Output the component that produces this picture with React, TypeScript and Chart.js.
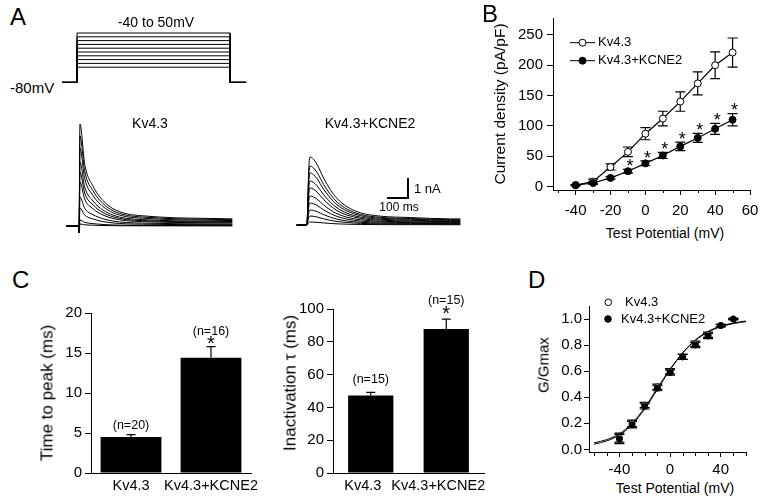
import React, { useEffect, useRef } from 'react';
import { Chart, registerables } from 'chart.js';

const FONT = "'Liberation Sans', Arial, Helvetica, sans-serif";

/* ================= DATA ================= */
// Panel A – voltage protocol
const stepVoltages = [-40, -30, -20, -10, 0, 10, 20, 30, 40, 50];
const holdingVoltage = -80;
const protocolTimes = [-71, 0, 729, 805]; // ms: hold start, step on, step off, hold end

// Panel A – current traces (nA vs ms), one trace per step voltage
const kvPeaks = [0.1, 0.3, 0.9, 1.45, 2.2, 2.7, 3.2, 3.9, 4.5, 5.1];
const kvTraceTimes = [-59, 0, 0.3, 4.5, 27, 67, 114, 162, 225, 303, 462, 600, 730];
const kvTraceShape = [0, 0, 0, 1, 0.61, 0.39, 0.25, 0.17, 0.12, 0.1, 0.08, 0.075, 0.07];
const kvCapacitive = [0, 0, -0.35, 0, 0, 0, 0, 0, 0, 0, 0, 0, 0];
const kcPeaks = [0.15, 0.45, 0.75, 1.1, 1.45, 1.85, 2.2, 2.6, 2.95, 3.4];
const kcTraceTimes = [-49, 0, 4, 8, 14, 30, 48, 79, 111, 143, 190, 254, 349, 492, 683, 730];
const kcTraceShape = [0, 0, 0.4, 0.8, 1, 0.97, 0.89, 0.69, 0.52, 0.39, 0.27, 0.18, 0.13, 0.11, 0.09, 0.09];
const scaleBarTime = 100; // ms
const scaleBarCurrent = 1; // nA

// Panel B – I/V
const ivVoltages = [-40, -30, -20, -10, 0, 10, 20, 30, 40, 50];
const ivKv43 = [2, 8, 32, 57, 87, 112, 140, 170, 200, 221];
const ivKv43Err = [1, 4, 5, 8, 10, 12, 16, 19, 22, 24];
const ivKcne2 = [2, 5.5, 14, 25, 38, 51, 66, 80, 95, 110];
const ivKcne2Err = [1, 2, 2, 3, 4, 5, 7, 7.5, 9, 10];
const ivSignificant = [-10, 0, 10, 20, 30, 40, 50];
const ivXTicks = [-40, -20, 0, 20, 40, 60];
const ivXMinor = [-50, -30, -10, 10, 30, 50];
const ivYTicks = [0, 50, 100, 150, 200, 250];

// Panel C – bars
const groups = ['Kv4.3', 'Kv4.3+KCNE2'];
const timeToPeak = [4.5, 14.4];
const timeToPeakErr = [0.3, 1.4];
const timeToPeakN = ['(n=20)', '(n=16)'];
const inactTau = [47.2, 87.8];
const inactTauErr = [2, 6];
const inactTauN = ['(n=15)', '(n=15)'];
const significant = [false, true];
const ttpTicks = [0, 5, 10, 15, 20];
const tauTicks = [0, 20, 40, 60, 80, 100];

// Panel D – G/V
const gvVoltages = [-40, -30, -20, -10, 0, 10, 20, 30, 40, 50];
const gvKv43 = [0.09, 0.2, 0.34, 0.48, 0.6, 0.71, 0.81, 0.88, 0.95, 1.0];
const gvKv43Err = [0.035, 0.025, 0.02, 0.02, 0.02, 0.02, 0.02, 0.02, 0.01, 0.005];
const gvKcne2 = [0.08, 0.19, 0.33, 0.47, 0.59, 0.71, 0.8, 0.87, 0.95, 1.0];
const gvKcne2Err = [0.035, 0.025, 0.02, 0.02, 0.02, 0.02, 0.02, 0.02, 0.01, 0.005];
const fitVoltages = [-60, -50, -40, -30, -20, -10, 0, 10, 20, 30, 40, 50, 60];
const fitKv43 = [0.04, 0.065, 0.11, 0.19, 0.31, 0.46, 0.61, 0.74, 0.84, 0.905, 0.945, 0.97, 0.985];
const fitKcne2 = [0.05, 0.075, 0.12, 0.2, 0.32, 0.47, 0.615, 0.74, 0.835, 0.9, 0.94, 0.965, 0.98];
const gvXTicks = [-40, 0, 40];
const gvXMinor = [-60, -50, -30, -20, -10, 10, 20, 30, 50, 60];
const gvYTicks = [0, 0.2, 0.4, 0.6, 0.8, 1.0];

/* ================= PLUGINS ================= */
function drawErrors(chart: any) {
  const ctx = chart.ctx;
  chart.data.datasets.forEach((ds: any, i: number) => {
    if (!ds.errors) return;
    const meta = chart.getDatasetMeta(i);
    const ys = chart.scales[meta.yAxisID];
    ctx.save();
    ctx.strokeStyle = '#000';
    ctx.lineWidth = ds.errorWidth || 1.2;
    meta.data.forEach((el: any, j: number) => {
      const e = ds.errors[j];
      if (e == null) return;
      const raw = ds.data[j];
      const v = typeof raw === 'number' ? raw : raw.y;
      const x = el.x;
      const top = ys.getPixelForValue(v + e);
      const bot = ds.errorUpOnly ? el.y : ys.getPixelForValue(v - e);
      const c = ds.errorCap ?? 4;
      ctx.beginPath();
      ctx.moveTo(x, top);
      ctx.lineTo(x, bot);
      ctx.moveTo(x - c, top);
      ctx.lineTo(x + c, top);
      if (!ds.errorUpOnly) {
        ctx.moveTo(x - c, bot);
        ctx.lineTo(x + c, bot);
      }
      ctx.stroke();
    });
    ctx.restore();
  });
}

const errorBarsPlugin = {
  id: 'errorBars',
  beforeDatasetsDraw(chart: any, _a: any, opts: any) {
    if (opts && opts.layer === 'before') drawErrors(chart);
  },
  afterDatasetsDraw(chart: any, _a: any, opts: any) {
    if (opts && opts.layer === 'after') drawErrors(chart);
  },
};

const notesPlugin = {
  id: 'notes',
  afterDatasetsDraw(chart: any, _a: any, opts: any) {
    const items = opts && opts.items;
    if (!items) return;
    const ctx = chart.ctx;
    const xs = chart.scales.x;
    const ys = chart.scales.y;
    ctx.save();
    ctx.fillStyle = '#000';
    ctx.textAlign = 'center';
    ctx.textBaseline = 'middle';
    items.forEach((it: any) => {
      ctx.font = `${it.size}px ${FONT}`;
      ctx.fillText(it.text, xs.getPixelForValue(it.x) + (it.dx || 0), ys.getPixelForValue(it.y) - (it.dy || 0));
    });
    ctx.restore();
  },
};

const keyPlugin = {
  id: 'key',
  afterDraw(chart: any, _a: any, opts: any) {
    const items = opts && opts.items;
    if (!items) return;
    const ctx = chart.ctx;
    const { left, top } = chart.chartArea;
    ctx.save();
    items.forEach((it: any) => {
      const y = top + it.cy;
      ctx.strokeStyle = '#000';
      ctx.lineWidth = 1;
      if (it.line) {
        ctx.beginPath();
        ctx.moveTo(left + it.line[0], y);
        ctx.lineTo(left + it.line[1], y);
        ctx.stroke();
      }
      ctx.beginPath();
      ctx.arc(left + it.cx, y, it.r, 0, Math.PI * 2);
      ctx.fillStyle = it.fill;
      ctx.fill();
      ctx.stroke();
      ctx.fillStyle = '#000';
      ctx.font = `${it.size}px ${FONT}`;
      ctx.textAlign = 'left';
      ctx.textBaseline = 'middle';
      ctx.fillText(it.text, left + it.tx, y);
    });
    ctx.restore();
  },
};

const minorTicksPlugin = {
  id: 'minorTicks',
  afterDraw(chart: any, _a: any, opts: any) {
    const list = opts && opts.list;
    if (!list) return;
    const ctx = chart.ctx;
    ctx.save();
    ctx.strokeStyle = '#000';
    ctx.lineWidth = 1;
    list.forEach((m: any) => {
      const s = chart.scales[m.axis];
      m.values.forEach((v: number) => {
        const p = Math.round(s.getPixelForValue(v)) + 0.5;
        ctx.beginPath();
        if (s.isHorizontal()) {
          const y = chart.chartArea.bottom;
          ctx.moveTo(p, y);
          ctx.lineTo(p, y + m.length);
        } else {
          const x = chart.chartArea.left;
          ctx.moveTo(x, p);
          ctx.lineTo(x - m.length, p);
        }
        ctx.stroke();
      });
    });
    ctx.restore();
  },
};

Chart.register(...registerables, errorBarsPlugin, notesPlugin, keyPlugin, minorTicksPlugin);
Chart.defaults.font.family = FONT;
Chart.defaults.color = '#000';

/* ================= HELPERS ================= */
type Geo = { l: number; t: number; r: number; b: number; mt: number; mr: number; mb: number; ml: number };

function canvasRect(g: Geo) {
  return { left: g.l - g.ml, top: g.t - g.mt, width: g.r - g.l + g.ml + g.mr, height: g.b - g.t + g.mt + g.mb };
}

function baseOptions(g: Geo | null) {
  return {
    responsive: false,
    animation: false,
    devicePixelRatio: 1,
    events: [],
    layout: { padding: g ? { top: g.mt, right: g.mr, bottom: 0, left: 0 } : 0 },
  };
}

function linAxis(o: any) {
  return {
    type: 'linear',
    min: o.min,
    max: o.max,
    grid: { display: true, drawOnChartArea: false, drawTicks: true, tickLength: o.tickLen, color: '#000', lineWidth: 1 },
    border: { display: true, color: '#000', width: 1 },
    ticks: {
      autoSkip: false,
      maxRotation: 0,
      minRotation: 0,
      padding: o.pad,
      color: '#000',
      font: { family: FONT, size: o.font || 15 },
      callback: o.fmt || ((v: any) => String(v)),
    },
    afterBuildTicks: (s: any) => {
      s.ticks = o.values.map((v: number) => ({ value: v }));
    },
    afterFit: (s: any) => {
      if (o.horizontal) s.height = o.fit;
      else s.width = o.fit;
      s.paddingLeft = 0;
      s.paddingRight = 0;
      s.paddingTop = 0;
      s.paddingBottom = 0;
    },
  };
}

function hiddenAxis(min: number, max: number) {
  return { type: 'linear', display: false, min, max };
}

function ChartCanvas({ rect, make }: any) {
  const ref = useRef<HTMLCanvasElement>(null);
  useEffect(() => {
    const chart = new Chart(ref.current as HTMLCanvasElement, make());
    return () => chart.destroy();
  }, []);
  return (
    <canvas
      ref={ref}
      width={rect.width}
      height={rect.height}
      style={{ position: 'absolute', left: rect.left, top: rect.top, width: rect.width, height: rect.height }}
    />
  );
}

/* ================= LAYOUT (pixels) ================= */
const PX_PER_MS = 0.21;
const protoRect = { left: 55, top: 20, width: 200, height: 75 };
const protoZeroX = 77; // step onset
const protoV50Y = 33; // +50 mV level
const PX_PER_MV = 0.38;

const kvRect = { left: 60, top: 115, width: 180, height: 125 };
const kvZeroX = 79;
const kvBaseY = 226;
const kcRect = { left: 280, top: 115, width: 190, height: 125 };
const kcZeroX = 307;
const kcBaseY = 225;
const PX_PER_NA = 20;
const scaleBarCorner = { x: 408, y: 198 };

const geoB: Geo = { l: 553, t: 18, r: 750, b: 190, mt: 10, mr: 14, mb: 32, ml: 62 };
const geoC1: Geo = { l: 91, t: 313, r: 251, b: 473, mt: 30, mr: 12, mb: 26, ml: 44 };
const geoC2: Geo = { l: 333, t: 309, r: 484, b: 473, mt: 20, mr: 20, mb: 26, ml: 38 };
const geoD: Geo = { l: 589, t: 306, r: 746, b: 452, mt: 24, mr: 14, mb: 28, ml: 40 };

/* ================= CHART CONFIGS ================= */
function protocolConfig() {
  const r = protoRect;
  const xmin = (r.left - protoZeroX) / PX_PER_MS;
  const xmax = (r.left + r.width - protoZeroX) / PX_PER_MS;
  const ymax = 50 + (protoV50Y - r.top) / PX_PER_MV;
  const ymin = 50 - (r.top + r.height - protoV50Y) / PX_PER_MV;
  const [t0, on, off, t1] = protocolTimes;
  return {
    type: 'line',
    data: {
      datasets: stepVoltages.map((v) => ({
        data: [
          { x: t0, y: holdingVoltage },
          { x: on, y: holdingVoltage },
          { x: on, y: v },
          { x: off, y: v },
          { x: off, y: holdingVoltage },
          { x: t1, y: holdingVoltage },
        ],
        borderColor: '#000',
        borderWidth: 1,
        pointRadius: 0,
        tension: 0,
      })),
    },
    options: {
      ...baseOptions(null),
      scales: { x: hiddenAxis(xmin, xmax), y: hiddenAxis(ymin, ymax) },
      plugins: { legend: { display: false }, tooltip: { enabled: false } },
    },
  };
}

function traceConfig(rect: any, zeroX: number, baseY: number, times: number[], shape: number[], peaks: number[], artifact: number[] | null, extra: any[]) {
  const xmin = (rect.left - zeroX) / PX_PER_MS;
  const xmax = (rect.left + rect.width - zeroX) / PX_PER_MS;
  const ymax = (baseY - rect.top) / PX_PER_NA;
  const ymin = -(rect.top + rect.height - baseY) / PX_PER_NA;
  const datasets = peaks.map((p) => ({
    data: times.map((t, i) => ({ x: t, y: shape[i] * p + (artifact ? artifact[i] : 0) })),
    borderColor: '#000',
    borderWidth: 1,
    pointRadius: 0,
    cubicInterpolationMode: 'monotone',
  }));
  return {
    type: 'line',
    data: { datasets: [...datasets, ...extra] },
    options: {
      ...baseOptions(null),
      scales: { x: hiddenAxis(xmin, xmax), y: hiddenAxis(ymin, ymax) },
      plugins: { legend: { display: false }, tooltip: { enabled: false } },
    },
  };
}

function kvConfig() {
  return traceConfig(kvRect, kvZeroX, kvBaseY, kvTraceTimes, kvTraceShape, kvPeaks, kvCapacitive, []);
}

function kcConfig() {
  const ct = (scaleBarCorner.x - kcZeroX) / PX_PER_MS;
  const ci = (kcBaseY - scaleBarCorner.y) / PX_PER_NA;
  const bar = {
    data: [
      { x: ct - scaleBarTime, y: ci },
      { x: ct, y: ci },
      { x: ct, y: ci + scaleBarCurrent },
    ],
    borderColor: '#000',
    borderWidth: 2,
    pointRadius: 0,
    tension: 0,
  };
  return traceConfig(kcRect, kcZeroX, kcBaseY, kcTraceTimes, kcTraceShape, kcPeaks, null, [bar]);
}

function ivConfig() {
  const g = geoB;
  const pts = (ys: number[]) => ivVoltages.map((v, i) => ({ x: v, y: ys[i] }));
  return {
    type: 'line',
    data: {
      datasets: [
        {
          label: 'Kv4.3+KCNE2',
          data: pts(ivKcne2),
          errors: ivKcne2Err,
          errorCap: 5,
          borderColor: '#000',
          borderWidth: 1.2,
          pointRadius: 3.5,
          pointBackgroundColor: '#000',
          pointBorderColor: '#000',
          pointBorderWidth: 1,
          tension: 0,
          order: 0,
        },
        {
          label: 'Kv4.3',
          data: pts(ivKv43),
          errors: ivKv43Err,
          errorCap: 5,
          borderColor: '#000',
          borderWidth: 1.2,
          pointRadius: 3.5,
          pointBackgroundColor: '#fff',
          pointBorderColor: '#000',
          pointBorderWidth: 1,
          tension: 0,
          order: 1,
        },
      ],
    },
    options: {
      ...baseOptions(g),
      scales: {
        x: linAxis({ min: -53, max: 60, values: ivXTicks, tickLen: 5, pad: 7, fit: g.mb, horizontal: true }),
        y: linAxis({ min: -6, max: 278, values: ivYTicks, tickLen: 6, pad: 4, fit: g.ml }),
      },
      plugins: {
        legend: { display: false },
        tooltip: { enabled: false },
        errorBars: { layer: 'before' },
        minorTicks: { list: [{ axis: 'x', values: ivXMinor, length: 3 }] },
        notes: {
          items: ivSignificant.map((v) => {
            const i = ivVoltages.indexOf(v);
            return { text: '*', x: v, y: ivKcne2[i] + ivKcne2Err[i], dx: 2, dy: 2.2, size: 18 };
          }),
        },
        key: {
          items: [
            { line: [17, 42], cx: 29.5, cy: 24.7, r: 3.5, fill: '#fff', text: 'Kv4.3', tx: 45, size: 13 },
            { line: [17, 42], cx: 29.5, cy: 42.7, r: 3.5, fill: '#000', text: 'Kv4.3+KCNE2', tx: 45, size: 13 },
          ],
        },
      },
    },
  };
}

function barConfig(g: Geo, values: number[], errs: number[], nLabels: string[], ymax: number, ticks: number[], barPct: number, nDy: number[], starDy: number, labelShift: number) {
  const items: any[] = [];
  values.forEach((v, i) => {
    items.push({ text: nLabels[i], x: i, y: v + errs[i], dy: nDy[i], size: 12.5 });
    if (significant[i]) items.push({ text: '*', x: i, y: v + errs[i], dy: starDy, size: 20 });
  });
  return {
    type: 'bar',
    data: {
      labels: groups,
      datasets: [
        {
          data: values,
          errors: errs,
          errorUpOnly: true,
          errorCap: 4.5,
          backgroundColor: '#000',
          borderWidth: 0,
          barPercentage: barPct,
          categoryPercentage: 1,
        },
      ],
    },
    options: {
      ...baseOptions(g),
      scales: {
        x: {
          type: 'category',
          grid: { display: false, drawTicks: false },
          border: { display: true, color: '#000', width: 1 },
          ticks: { padding: 4, labelOffset: labelShift, color: '#000', font: { family: FONT, size: 14.5 }, autoSkip: false, maxRotation: 0 },
          afterFit: (s: any) => {
            s.height = g.mb;
            s.paddingLeft = 0;
            s.paddingRight = 0;
          },
        },
        y: linAxis({ min: 0, max: ymax, values: ticks, tickLen: 6, pad: 3, fit: g.ml }),
      },
      plugins: {
        legend: { display: false },
        tooltip: { enabled: false },
        errorBars: { layer: 'after' },
        notes: { items },
      },
    },
  };
}

function gvConfig() {
  const g = geoD;
  const pts = (xs: number[], ys: number[]) => xs.map((v, i) => ({ x: v, y: ys[i] }));
  const pointSet = (ys: number[], errs: number[], fill: string, order: number) => ({
    data: pts(gvVoltages, ys),
    errors: errs,
    errorCap: 5,
    showLine: false,
    pointRadius: 3,
    pointBackgroundColor: fill,
    pointBorderColor: '#000',
    pointBorderWidth: 1,
    order,
  });
  const fitSet = (ys: number[], order: number) => ({
    data: pts(fitVoltages, ys),
    borderColor: '#000',
    borderWidth: 1,
    pointRadius: 0,
    cubicInterpolationMode: 'monotone',
    order,
  });
  return {
    type: 'line',
    data: {
      datasets: [
        pointSet(gvKcne2, gvKcne2Err, '#000', 0),
        pointSet(gvKv43, gvKv43Err, '#fff', 1),
        fitSet(fitKcne2, 2),
        fitSet(fitKv43, 3),
      ],
    },
    options: {
      ...baseOptions(g),
      scales: {
        x: linAxis({ min: -64, max: 60, values: gvXTicks, tickLen: 5, pad: 4, fit: g.mb, horizontal: true }),
        y: linAxis({ min: -0.02, max: 1.1, values: gvYTicks, tickLen: 5, pad: 2, fit: g.ml, fmt: (v: number) => v.toFixed(1) }),
      },
      plugins: {
        legend: { display: false },
        tooltip: { enabled: false },
        errorBars: { layer: 'before' },
        minorTicks: { list: [{ axis: 'x', values: gvXMinor, length: 4 }] },
        key: {
          items: [
            { cx: 19.3, cy: -3.7, r: 3.3, fill: '#fff', text: 'Kv4.3', tx: 36, size: 13 },
            { cx: 19, cy: 13, r: 3.3, fill: '#000', text: 'Kv4.3+KCNE2', tx: 32, size: 13 },
          ],
        },
      },
    },
  };
}

/* ================= TEXT ================= */
const texts: any[] = [
  { t: 'A', x: 10, y: 17, s: 24, a: 'left' },
  { t: '-40 to 50mV', x: 156, y: 22, s: 14 },
  { t: '-80mV', x: 10, y: 87, s: 15, a: 'left' },
  { t: 'Kv4.3', x: 150, y: 123, s: 14 },
  { t: 'Kv4.3+KCNE2', x: 370, y: 123, s: 14 },
  { t: '1 nA', x: 414, y: 188, s: 13, a: 'left' },
  { t: '100 ms', x: 399, y: 207, s: 12 },
  { t: 'B', x: 482, y: 14, s: 24, a: 'left' },
  { t: 'Current density (pA/pF)', x: 500, y: 104, s: 15.5, r: true },
  { t: 'Test Potential (mV)', x: 665, y: 233, s: 14 },
  { t: 'C', x: 12, y: 280, s: 24, a: 'left' },
  { t: 'Time to peak (ms)', x: 47, y: 393, s: 17, r: true },
  { t: 'Inactivation τ (ms)', x: 290, y: 383, s: 17, r: true },
  { t: 'D', x: 528, y: 280, s: 24, a: 'left' },
  { t: 'G/Gmax', x: 543, y: 365, s: 15, r: true },
  { t: 'Test Potential (mV)', x: 675, y: 488, s: 14 },
];

function Label({ d }: any) {
  const tf = d.r ? 'translate(-50%, -50%) rotate(-90deg)' : d.a === 'left' ? 'translate(0, -50%)' : 'translate(-50%, -50%)';
  return (
    <div
      style={{
        position: 'absolute',
        left: d.x,
        top: d.y,
        transform: tf,
        fontFamily: FONT,
        fontSize: d.s,
        lineHeight: 1,
        whiteSpace: 'nowrap',
        color: '#000',
      }}
    >
      {d.t}
    </div>
  );
}

export default function App() {
  return (
    <div style={{ position: 'absolute', left: 0, top: 0, width: 770, height: 503, background: '#fff', overflow: 'hidden' }}>
      <ChartCanvas rect={protoRect} make={protocolConfig} />
      <ChartCanvas rect={kvRect} make={kvConfig} />
      <ChartCanvas rect={kcRect} make={kcConfig} />
      <ChartCanvas rect={canvasRect(geoB)} make={ivConfig} />
      <ChartCanvas
        rect={canvasRect(geoC1)}
        make={() => barConfig(geoC1, timeToPeak, timeToPeakErr, timeToPeakN, 20, ttpTicks, 0.76, [9.3, 15], 2.3, 0)}
      />
      <ChartCanvas
        rect={canvasRect(geoC2)}
        make={() => barConfig(geoC2, inactTau, inactTauErr, inactTauN, 100, tauTicks, 0.6, [12.4, 18.7], 4.2, -8)}
      />
      <ChartCanvas rect={canvasRect(geoD)} make={gvConfig} />
      {texts.map((d, i) => (
        <Label key={i} d={d} />
      ))}
    </div>
  );
}
